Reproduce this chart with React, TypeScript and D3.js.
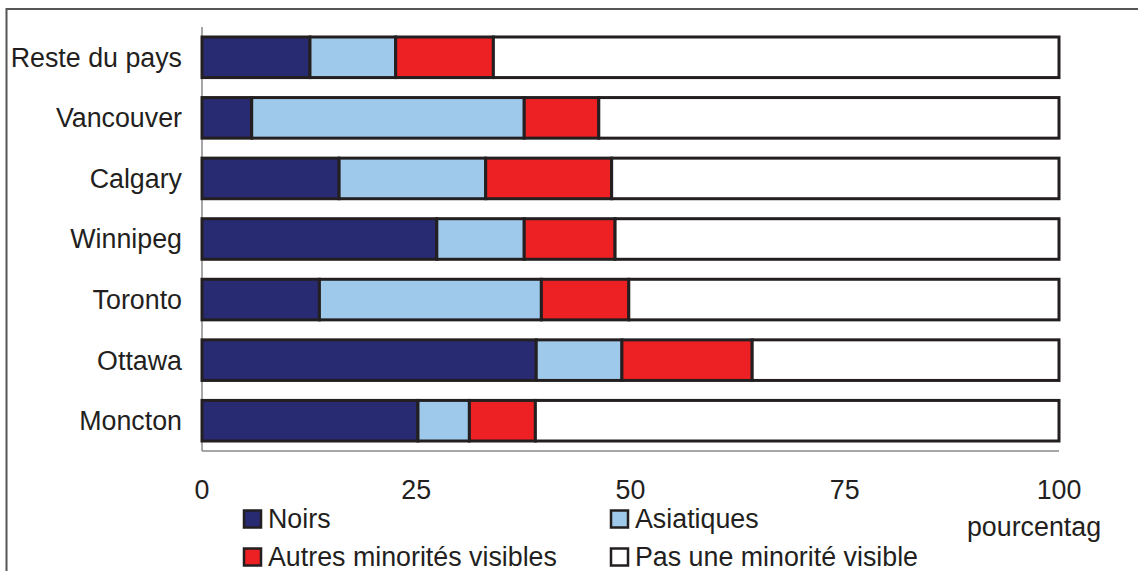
import { useEffect, useRef } from "react";
import * as d3 from "d3";

const CATEGORIES = ["Reste du pays", "Vancouver", "Calgary", "Winnipeg", "Toronto", "Ottawa", "Moncton"];
const SERIES = ["Noirs", "Asiatiques", "Autres minorités visibles", "Pas une minorité visible"];
const NOIRS = [12.6, 5.8, 16.0, 27.4, 13.7, 39.0, 25.2];
const ASIATIQUES = [10.0, 31.8, 17.1, 10.2, 25.9, 10.0, 6.0];
const AUTRES = [11.4, 8.7, 14.7, 10.6, 10.2, 15.2, 7.7];
const PAS_MINORITE = [66.0, 53.7, 52.2, 51.8, 50.2, 35.8, 61.1];
const X_TICKS = [0, 25, 50, 75, 100];

const COLORS = ["#282a72", "#9fc9ea", "#ed2024", "#ffffff"];
const W = 1138, H = 571;
const FONT = "'Liberation Sans', Arial, sans-serif";
const FS = 26.8;

export default function App() {
  const svgRef = useRef<SVGSVGElement>(null);

  useEffect(() => {
    if (!svgRef.current) return;
    const svg = d3.select(svgRef.current);
    svg.selectAll("*").remove();

    // outer frame (cut off at the right and bottom)
    svg.append("path")
      .attr("d", `M6.5,${H + 5}V9H${W + 5}`)
      .attr("fill", "none").attr("stroke", "#555").attr("stroke-width", 2);

    const x = d3.scaleLinear().domain([0, 100]).range([202, 1059]);
    const y = d3.scaleBand<string>().domain(CATEGORIES).range([27, 451]).paddingInner(0.33).paddingOuter(0.165);

    const rows = CATEGORIES.map((c, i) => ({
      cat: c,
      v: [NOIRS[i], ASIATIQUES[i], AUTRES[i], PAS_MINORITE[i]],
    }));

    // axis lines
    svg.append("line").attr("x1", x(0)).attr("x2", x(0)).attr("y1", 27).attr("y2", 451)
      .attr("stroke", "#888").attr("stroke-width", 1.5);
    svg.append("line").attr("x1", x(0)).attr("x2", x(100)).attr("y1", 451).attr("y2", 451)
      .attr("stroke", "#888").attr("stroke-width", 1.5);

    const g = svg.append("g");
    rows.forEach((r) => {
      let acc = 0;
      r.v.forEach((val, k) => {
        g.append("rect")
          .attr("x", x(acc))
          .attr("y", y(r.cat)!)
          .attr("width", x(acc + val) - x(acc))
          .attr("height", y.bandwidth())
          .attr("fill", COLORS[k])
          .attr("stroke", "#231f20")
          .attr("stroke-width", 3);
        acc += val;
      });
    });

    // category labels
    svg.append("g").selectAll("text").data(CATEGORIES).join("text")
      .attr("x", 182)
      .attr("y", (d) => y(d)! + y.bandwidth() / 2)
      .attr("dy", "0.35em")
      .attr("text-anchor", "end")
      .attr("font-family", FONT).attr("font-size", FS).attr("fill", "#231f20")
      .text((d) => d);

    // x tick labels
    svg.append("g").selectAll("text").data(X_TICKS).join("text")
      .attr("x", (d) => x(d))
      .attr("y", 490)
      .attr("dy", "0.35em")
      .attr("text-anchor", "middle")
      .attr("font-family", FONT).attr("font-size", FS).attr("fill", "#231f20")
      .text((d) => d);

    svg.append("text")
      .attr("x", 1034).attr("y", 527).attr("dy", "0.35em")
      .attr("text-anchor", "middle")
      .attr("font-family", FONT).attr("font-size", FS).attr("fill", "#231f20")
      .text("pourcentag");

    // legend
    const legendPos = [
      { x: 244, y: 519 },
      { x: 611, y: 519 },
      { x: 244, y: 557 },
      { x: 611, y: 557 },
    ];
    SERIES.forEach((s, k) => {
      const p = legendPos[k];
      svg.append("rect")
        .attr("x", p.x).attr("y", p.y - 8.5).attr("width", 17).attr("height", 17)
        .attr("fill", COLORS[k]).attr("stroke", "#231f20").attr("stroke-width", 2.5);
      svg.append("text")
        .attr("x", p.x + 24).attr("y", p.y).attr("dy", "0.35em")
        .attr("font-family", FONT).attr("font-size", FS).attr("fill", "#231f20")
        .text(s);
    });
  }, []);

  return (
    <svg ref={svgRef} width={W} height={H}
      style={{ position: "absolute", left: 0, top: 0, background: "#fff" }} />
  );
}
